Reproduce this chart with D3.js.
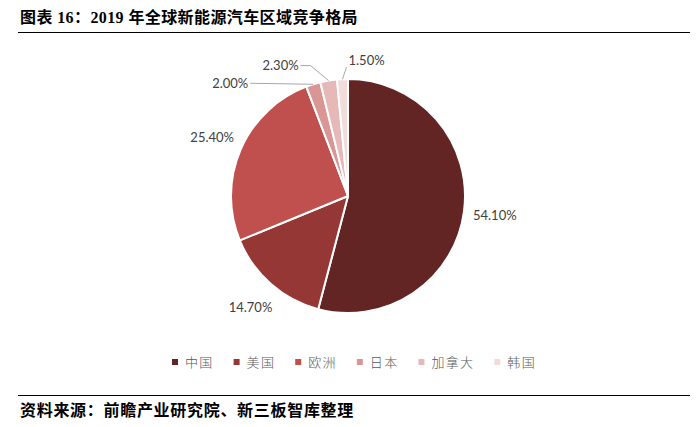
<!DOCTYPE html>
<html>
<head>
<meta charset="utf-8">
<script src="https://cdn.jsdelivr.net/npm/d3@7"></script>
<style>
  body { margin: 0; background: #fff; }
  svg { display: block; }
</style>
</head>
<body>
<script>
// regions and their share of 2019 global NEV sales (%)
let regions = ["中国", "美国", "欧洲", "日本", "加拿大", "韩国"];
let shares = [54.1, 14.7, 25.4, 2.0, 2.3, 1.5];
let sliceColors = ["#632523", "#953735", "#c0504d", "#d99694", "#e6b9b8", "#f2dcdb"];

let titleText = "图表 16：2019 年全球新能源汽车区域竞争格局";
let sourceText = "资料来源：前瞻产业研究院、新三板智库整理";

let outerWidth = 700;
let outerHeight = 427;
let cx = 348, cy = 196, radius = 117;

let svg = d3.select("body")
    .append("svg")
    .attr("width", outerWidth)
    .attr("height", outerHeight);

// title + rule
svg.append("text")
    .attr("x", 20)
    .attr("y", 23)
    .attr("font-family", "'Liberation Serif', 'Noto Sans CJK SC', serif")
    .attr("font-weight", 700)
    .attr("font-size", 16)
    .attr("letter-spacing", 0.4)
    .attr("fill", "#000")
    .text(titleText);

svg.append("line")
    .attr("x1", 18).attr("x2", 690)
    .attr("y1", 32.5).attr("y2", 32.5)
    .attr("stroke", "#000").attr("stroke-width", 1);

svg.append("line")
    .attr("x1", 18).attr("x2", 690)
    .attr("y1", 395.5).attr("y2", 395.5)
    .attr("stroke", "#000").attr("stroke-width", 1);

svg.append("text")
    .attr("x", 20)
    .attr("y", 416)
    .attr("font-family", "'Noto Sans CJK SC', sans-serif")
    .attr("font-weight", 700)
    .attr("font-size", 16)
    .attr("letter-spacing", 0.7)
    .attr("fill", "#000")
    .text(sourceText);

// pie
let pie = d3.pie().sort(null).value(function(d) { return d; });
let arcs = pie(shares);

let arc = d3.arc().innerRadius(0).outerRadius(radius);
let labelArc = d3.arc().innerRadius(148).outerRadius(148);
let edgeArc = d3.arc().innerRadius(radius).outerRadius(radius);

let pieGroup = svg.append("g")
    .attr("transform", "translate(" + cx + "," + cy + ")");

pieGroup.selectAll(".slice")
    .data(arcs)
    .enter()
    .append("path")
        .attr("class", "slice")
        .attr("d", arc)
        .attr("fill", function(d, i) { return sliceColors[i]; })
        .attr("stroke", "#fff")
        .attr("stroke-width", 2)
        .attr("stroke-linejoin", "round");

let fmt = function(v) { return v.toFixed(2) + "%"; };

// large slices: label outside at a fixed radius
pieGroup.selectAll(".bigLabel")
    .data(arcs.filter(function(d) { return d.value >= 5; }))
    .enter()
    .append("text")
        .attr("class", "bigLabel")
        .attr("transform", function(d) { return "translate(" + labelArc.centroid(d) + ")"; })
        .attr("dy", "0.35em")
        .attr("text-anchor", "middle")
        .attr("font-family", "Lato, 'Liberation Sans', sans-serif")
        .attr("font-size", 13)
        .attr("fill", "#404040")
        .text(function(d) { return fmt(d.value); });

// small slices: leader lines (offsets from the slice edge)
let leaders = {
    3: { elbow: [0, 0], end: [-63, -1], text: [-65, 4], anchor: "end" },
    4: { elbow: [-18, -15], end: [-28, -15], text: [-30, -11], anchor: "end" },
    5: { elbow: [4, -12], end: [4, -12], text: [6, -14], anchor: "start" }
};

arcs.forEach(function(d, i) {
    if (!leaders[i]) return;
    let e = edgeArc.centroid(d);
    let L = leaders[i];
    let pts = [e, [e[0] + L.elbow[0], e[1] + L.elbow[1]], [e[0] + L.end[0], e[1] + L.end[1]]];
    pieGroup.append("path")
        .attr("d", d3.line()(pts))
        .attr("fill", "none")
        .attr("stroke", "#a6a6a6")
        .attr("stroke-width", 1);
    pieGroup.append("text")
        .attr("x", e[0] + L.text[0])
        .attr("y", e[1] + L.text[1])
        .attr("text-anchor", L.anchor)
        .attr("font-family", "Lato, 'Liberation Sans', sans-serif")
        .attr("font-size", 13)
        .attr("fill", "#404040")
        .text(fmt(d.value));
});

// legend
let legend = svg.append("g").attr("class", "legend");
let lx = 172, ly = 362;
regions.forEach(function(name, i) {
    legend.append("rect")
        .attr("x", lx)
        .attr("y", ly - 3)
        .attr("width", 6)
        .attr("height", 6)
        .attr("fill", sliceColors[i]);
    let t = legend.append("text")
        .attr("x", lx + 13)
        .attr("y", ly + 5)
        .attr("font-family", "'Noto Sans CJK SC', sans-serif")
        .attr("font-weight", 300)
        .attr("font-size", 13)
        .attr("letter-spacing", 1.3)
        .attr("fill", "#595959")
        .text(name);
    lx += 13 + t.node().getComputedTextLength() + 20;
});
</script>
</body>
</html>
